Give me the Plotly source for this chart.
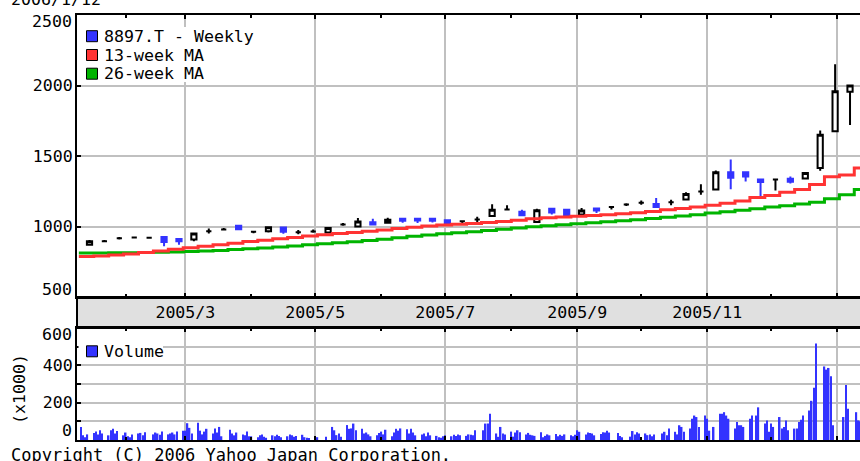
import pandas as pd
import plotly.graph_objects as go

# ---------------- data ----------------
weeks = pd.date_range("2005-01-10", periods=53, freq="7D")   # Mondays (week starts)

c_open = [870, 895, 917, 922, 920, 925, 912, 908, 967, 979, 1005, 963, 967, 993, 960, 965, 958, 1014, 1000, 1030,
          1027, 1055, 1055, 1055, 1045, 1038, 1050, 1075, 1120, 1105, 1032, 1125, 1118, 1085, 1127, 1139, 1156, 1168,
          1160, 1172, 1192, 1248, 1262, 1385, 1385, 1333, 1333, 1338, 1340, 1415, 1675, 1955]
c_high = [905, 905, 925, 928, 927, 928, 915, 955, 985, 990, 1008, 968, 998, 995, 975, 978, 992, 1025, 1060, 1055,
          1062, 1062, 1058, 1057, 1048, 1040, 1070, 1158, 1150, 1118, 1125, 1128, 1120, 1132, 1128, 1142, 1165, 1185,
          1203, 1190, 1243, 1300, 1398, 1475, 1388, 1335, 1340, 1355, 1382, 1680, 2150, 2005]
c_low = [865, 888, 908, 915, 915, 860, 870, 895, 950, 972, 978, 952, 958, 948, 945, 955, 955, 1005, 995, 1012,
         1022, 1026, 1025, 1028, 1015, 1020, 1025, 1070, 1118, 1078, 1028, 1085, 1078, 1073, 1095, 1120, 1145, 1155,
         1135, 1150, 1190, 1225, 1260, 1265, 1320, 1215, 1255, 1305, 1336, 1395, 1670, 1720]
c_close = [895, 895, 917, 922, 920, 890, 895, 950, 967, 979, 980, 963, 995, 962, 960, 965, 990, 1014, 1035, 1015,
           1048, 1040, 1043, 1040, 1025, 1038, 1050, 1118, 1120, 1080, 1115, 1100, 1080, 1113, 1113, 1139, 1156, 1168,
           1138, 1172, 1230, 1248, 1384, 1345, 1355, 1315, 1333, 1318, 1380, 1650, 1960, 2000]

ma13 = [788, 790, 797, 805, 815, 826, 838, 850, 860, 870, 882, 893, 903, 913, 922, 932, 942, 950, 958, 966,
        975, 985, 995, 1003, 1010, 1016, 1022, 1028, 1036, 1045, 1055, 1062, 1068, 1073, 1078, 1083, 1090, 1098,
        1106, 1118, 1127, 1138, 1150, 1165, 1180, 1205, 1220, 1243, 1262, 1297, 1352, 1366, 1415]
ma26 = [812, 812, 813, 814, 815, 817, 819, 822, 826, 830, 836, 842, 848, 855, 862, 870, 877, 884, 892, 900,
        910, 920, 930, 940, 948, 956, 963, 972, 980, 990, 998, 1006, 1012, 1020, 1027, 1033, 1040, 1048,
        1056, 1066, 1075, 1084, 1095, 1104, 1115, 1125, 1138, 1148, 1160, 1172, 1196, 1226, 1262]

holidays = ["2005-02-11", "2005-03-21", "2005-04-29", "2005-05-03", "2005-05-04", "2005-05-05", "2005-07-18",
            "2005-09-19", "2005-09-23", "2005-10-10", "2005-11-03", "2005-11-23", "2005-12-23",
            "2006-01-02", "2006-01-03", "2006-01-09"]

# daily volume (x1000 shares), month by month
vol_2005_01 = [70, 25, 15, 30, 38, 45, 30, 52, 35, 25, 52, 60, 35, 48, 25]
vol_2005_02 = [40, 20, 15, 30, 35, 38, 25, 42, 30, 40, 35, 28, 45, 30, 35, 40, 30, 45, 50]
vol_2005_03 = [50, 90, 65, 35, 92, 50, 30, 45, 60, 35, 62, 40, 70, 20, 55, 35, 25, 40, 30, 25, 45, 20]
vol_2005_04 = [20, 15, 25, 30, 18, 12, 25, 20, 28, 22, 15, 20, 30, 25, 18, 22, 28, 15, 12, 10]
vol_2005_05 = [15, 18, 70, 52, 26, 35, 17, 80, 60, 62, 88, 52, 60, 35, 40, 30, 20, 25, 38]
vol_2005_06 = [45, 30, 55, 20, 40, 60, 50, 62, 58, 35, 60, 40, 25, 30, 35, 20, 40, 25, 22, 15, 12, 20]
vol_2005_07 = [25, 20, 28, 22, 30, 25, 22, 30, 28, 25, 52, 52, 88, 88, 140, 35, 17, 70, 35, 30]
vol_2005_08 = [45, 18, 40, 52, 42, 30, 38, 28, 25, 22, 42, 15, 22, 30, 25, 32, 20, 28, 22, 30, 25, 20, 28]
vol_2005_09 = [52, 44, 30, 40, 38, 35, 25, 32, 42, 40, 50, 40, 38, 22, 15, 18, 48, 30, 42, 35]
vol_2005_10 = [35, 26, 30, 20, 30, 35, 44, 26, 61, 44, 30, 79, 70, 44, 61, 114, 131, 123, 70, 131]
vol_2005_11 = [114, 50, 70, 140, 140, 149, 131, 114, 61, 96, 79, 79, 70, 114, 131, 131, 175, 88, 105, 44]
vol_2005_12 = [88, 70, 123, 61, 70, 105, 52, 61, 61, 96, 108, 131, 158, 210, 280, 517, 394, 377, 386, 342, 79]
vol_2006_01 = [123, 295, 167, 149, 105, 100]

month_labels = ["2005/3", "2005/5", "2005/7", "2005/9", "2005/11", ""]
month_ticks = ["2005-03-01", "2005-05-01", "2005-07-01", "2005-09-01", "2005-11-01", "2006-01-01"]
minor_ticks = ["2005-02-01", "2005-04-01", "2005-06-01", "2005-08-01", "2005-10-01", "2005-12-01"]
price_ticks = [500, 1000, 1500, 2000, 2500]
price_labels = ["500", "1000", "1500", "2000", "2500"]
vol_ticks = [0, 100, 200, 300, 400, 500, 600]
vol_labels = ["0", "", "200", "", "400", "", "600"]

# ---------------- derived ----------------
days = pd.bdate_range("2005-01-11", "2006-01-12")
days = days[~days.isin(pd.to_datetime(holidays))]
volume = (vol_2005_01 + vol_2005_02 + vol_2005_03 + vol_2005_04 + vol_2005_05 + vol_2005_06 + vol_2005_07 +
          vol_2005_08 + vol_2005_09 + vol_2005_10 + vol_2005_11 + vol_2005_12 + vol_2006_01)
n = min(len(days), len(volume))
days, volume = days[:n], volume[:n]

candle_x = weeks[:52] + pd.Timedelta(days=5)

# ---------------- geometry ----------------
W, H = 860, 461
L, T, B = 77, 15, 440
PRICE_BOTTOM, VOL_TOP = 297, 328
X_START = pd.Timestamp("2005-01-09 03:12")
X_END = pd.Timestamp("2006-01-11 16:24")


def pxx(x):
    return (x - L) / (W - L)


def pxy(y):
    return (B - y) / (B - T)


FONT = "DejaVu Sans Mono"
BLUE, RED, GREEN = "#3333ff", "#ff3333", "#00b400"
GRID = "#c0c0c0"

fig = go.Figure()

ma_x = list(weeks) + [X_END]
fig.add_trace(go.Scatter(x=ma_x, y=ma26 + [ma26[-1]], mode="lines", line=dict(color=GREEN, width=3, shape="hv"),
                         name="26-week MA", showlegend=False))
fig.add_trace(go.Scatter(x=ma_x, y=ma13 + [ma13[-1]], mode="lines", line=dict(color=RED, width=3, shape="hv"),
                         name="13-week MA", showlegend=False))


def candle_subset(cond, line_color, fill_color, name):
    idx = [i for i in range(len(c_open)) if cond(c_open[i], c_close[i])]
    style = dict(line=dict(color=line_color, width=2), fillcolor=fill_color)
    return go.Candlestick(x=[candle_x[i] for i in idx],
                          open=[c_open[i] for i in idx], high=[c_high[i] for i in idx],
                          low=[c_low[i] for i in idx], close=[c_close[i] for i in idx],
                          increasing=style, decreasing=style, whiskerwidth=0,
                          name=name, showlegend=False)


fig.add_trace(candle_subset(lambda o, c: c > o, "black", "white", "8897.T - Weekly"))
fig.add_trace(candle_subset(lambda o, c: c < o, BLUE, BLUE, "8897.T - Weekly"))
fig.add_trace(candle_subset(lambda o, c: c == o, "black", "black", "8897.T - Weekly"))

fig.add_trace(go.Bar(x=days, y=volume, xaxis="x2", yaxis="y2", marker=dict(color=BLUE, line=dict(width=0)),
                     width=0.7 * 86400000, name="Volume", showlegend=False))

tickfont = dict(family=FONT, size=16.6, color="black")
xcommon = dict(type="date", range=[X_START, X_END], domain=[0, 1], showline=True, linecolor="black", linewidth=2,
               mirror="ticks", ticks="inside", ticklen=4, tickwidth=2, tickcolor="black",
               tickvals=month_ticks, ticktext=month_labels, showgrid=True, gridcolor=GRID, gridwidth=2,
               tickfont=tickfont, automargin=False,
               minor=dict(tickvals=minor_ticks, ticks="inside", ticklen=3, tickwidth=2, tickcolor="black",
                          showgrid=False))
ycommon = dict(showline=True, linecolor="black", linewidth=2, ticks="inside", ticklen=4, tickwidth=2,
               tickcolor="black", showgrid=True, gridcolor=GRID, gridwidth=2, zeroline=False, tickfont=tickfont,
               ticklabelstandoff=-1, automargin=False)

# the outermost tick labels sit just inside their panel (as in the original), so they are drawn as annotations
price_axis_text = [t if v not in (price_ticks[0], price_ticks[-1]) else "" for v, t in zip(price_ticks, price_labels)]
vol_axis_text = [t if v not in (vol_ticks[0], vol_ticks[-1]) else "" for v, t in zip(vol_ticks, vol_labels)]

fig.update_layout(
    width=W, height=H,
    margin=dict(l=L, r=0, t=T, b=H - B, pad=0, autoexpand=False),
    paper_bgcolor="white", plot_bgcolor="white",
    boxgap=0.5,
    xaxis=dict(**xcommon, anchor="y", rangeslider=dict(visible=False), ticklabelstandoff=-1),
    xaxis2=dict(**xcommon, anchor="y2", showticklabels=False),
    yaxis=dict(**ycommon, domain=[pxy(PRICE_BOTTOM), 1], range=[price_ticks[0], price_ticks[-1]],
               tickvals=price_ticks, ticktext=price_axis_text),
    yaxis2=dict(**ycommon, domain=[0, pxy(VOL_TOP)], range=[vol_ticks[0], vol_ticks[-1]],
                tickvals=vol_ticks, ticktext=vol_axis_text),
    showlegend=False,
    font=dict(family=FONT, color="black"),
)

shapes = []
# date band between price and volume panels
shapes.append(dict(type="rect", xref="paper", yref="paper", x0=0, x1=pxx(864), y0=pxy(VOL_TOP), y1=pxy(PRICE_BOTTOM),
                   fillcolor="#e0e0e0", line=dict(color="black", width=2), layer="below"))
# legend backgrounds
shapes.append(dict(type="rect", xref="paper", yref="paper", x0=pxx(78.5), x1=pxx(258), y0=pxy(82), y1=pxy(27),
                   fillcolor="white", line=dict(width=0), layer="above"))
shapes.append(dict(type="rect", xref="paper", yref="paper", x0=pxx(78.5), x1=pxx(163), y0=pxy(358), y1=pxy(344),
                   fillcolor="white", line=dict(width=0), layer="above"))

legend_rows = [("8897.T - Weekly", BLUE, 36.2), ("13-week MA", RED, 55.0), ("26-week MA", GREEN, 73.7),
               ("Volume", BLUE, 351.3)]
annotations = []
for text, color, yc in legend_rows:
    shapes.append(dict(type="rect", xref="paper", yref="paper", x0=pxx(86.5), x1=pxx(97.5),
                       y0=pxy(yc + 5.5), y1=pxy(yc - 5.5), fillcolor=color, line=dict(color="black", width=1),
                       layer="above"))
    annotations.append(dict(text=text, xref="paper", yref="paper", x=pxx(101.5), y=pxy(yc), xanchor="left",
                            yanchor="middle", showarrow=False, font=dict(family=FONT, size=16.6, color="black")))

# outer tick labels: (text, yref axis, value, pixel shift)
edge_labels = [(price_labels[-1], "y", price_ticks[-1], -6), (price_labels[0], "y", price_ticks[0], 8),
               (vol_labels[-1], "y2", vol_ticks[-1], -6), (vol_labels[0], "y2", vol_ticks[0], 10)]
for text, yref, val, shift in edge_labels:
    annotations.append(dict(text=text, xref="paper", yref=yref, x=pxx(73.5), y=val, yshift=shift,
                            xanchor="right", yanchor="middle", showarrow=False, font=tickfont))

annotations.append(dict(text="(x1000)", xref="paper", yref="paper", x=pxx(19), y=pxy(389), textangle=-90,
                        xanchor="center", yanchor="middle", showarrow=False,
                        font=dict(family=FONT, size=16.6, color="black")))
annotations.append(dict(text="Copyright (C) 2006 Yahoo Japan Corporation.", xref="paper", yref="paper",
                        x=pxx(9), y=pxy(455), xanchor="left", yanchor="middle", showarrow=False,
                        font=dict(family=FONT, size=17, color="black")))
annotations.append(dict(text="2006/1/12", xref="paper", yref="paper", x=pxx(9), y=pxy(-1), xanchor="left",
                        yanchor="middle", showarrow=False, font=dict(family=FONT, size=16.6, color="black")))

fig.update_layout(shapes=shapes, annotations=annotations)

# the page's default 8px body margin would shift the chart; remove it so the figure sits at the window origin
fig.write_html("out.html", config={"displayModeBar": False},
               post_script="document.body.style.margin='0px';")
